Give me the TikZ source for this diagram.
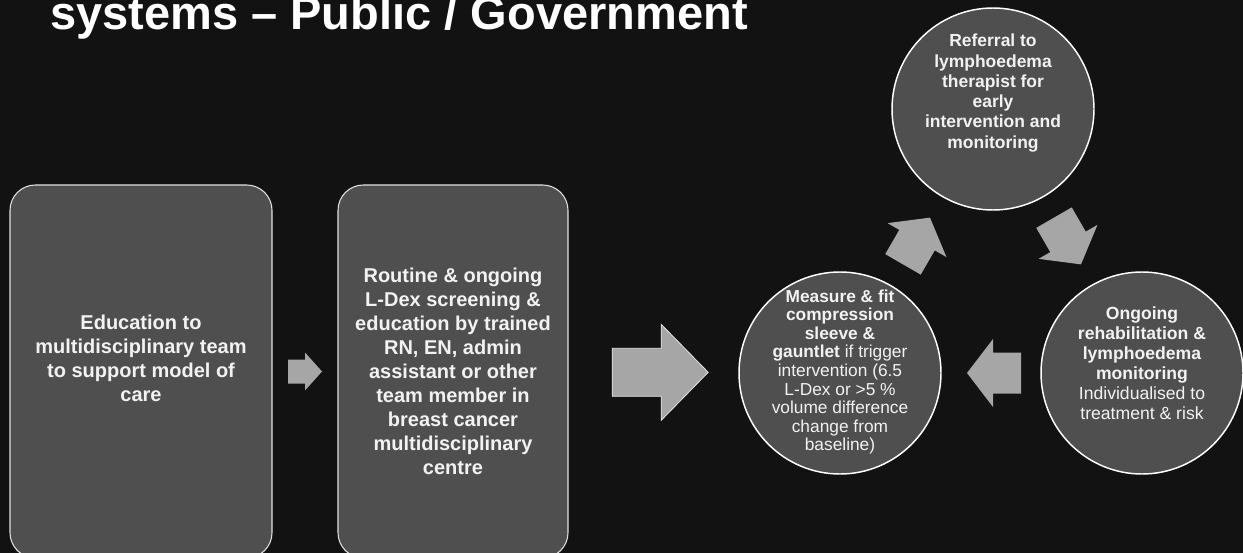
\documentclass[tikz,border=0pt]{standalone}
\usepackage{fontspec}
\setmainfont{Liberation Sans}
\usetikzlibrary{calc}
\definecolor{bg}{HTML}{121212}
\definecolor{panel}{HTML}{4F4F4F}
\definecolor{arrowgray}{HTML}{A6A6A6}
\definecolor{txt}{HTML}{F2F2F2}

\begin{document}
\begin{tikzpicture}[x=0.75pt,y=-0.75pt,
  stepbox/.style={draw=white!88!black, line width=0.8pt, fill=panel,
    rounded corners=19pt, inner sep=0pt, minimum height=279.75pt},
  disc/.style={circle, draw=white, line width=1.1pt, fill=panel,
    minimum size=151.5pt, inner sep=0pt},
  boxtext/.style={text=txt, align=center, inner sep=0pt,
    font=\bfseries\fontsize{15}{18}\selectfont},
  disctext/.style={text=txt, align=center, inner sep=0pt},
  pics/cyclearrow/.style={code={
    \fill[arrowgray] (-27,-20.5) -- (1,-20.5) -- (1,-34) -- (27,0)
      -- (1,34) -- (1,20.5) -- (-27,20.5) -- cycle;}},
  pics/smallarrow/.style={code={
    \fill[arrowgray] (-17,-12) -- (0,-12) -- (0,-19) -- (17,0)
      -- (0,19) -- (0,12) -- (-17,12) -- cycle;}},
  pics/bigarrow/.style={code={
    \filldraw[fill=arrowgray, draw=white!90!black, line width=0.6pt]
      (-48,-24) -- (1,-24) -- (1,-48) -- (48,0)
      -- (1,48) -- (1,24) -- (-48,24) -- cycle;}},
]
\useasboundingbox (0,0) rectangle (1243,553);
\clip (0,0) rectangle (1243,553);
\fill[bg] (0,0) rectangle (1243,553);

% heading (second line of the slide title)
\node[anchor=base west, inner sep=0pt, text=white,
  font=\bfseries\fontsize{35.25}{40}\selectfont] (title) at (50,30)
  {systems – Public / Government};

% two rounded panels
\node[stepbox, minimum width=196.5pt] (box1) at (141,371.5) {};
\node[stepbox, minimum width=172.5pt] (box2) at (453,371.5) {};

\node[boxtext] (t1) at ($(box1.center)+(0,-13.5)$)
  {Education to\\multidisciplinary team\\to support model of\\care};
\node[boxtext] (t2) at ($(box2.center)+(0,0)$)
  {Routine \& ongoing\\L-Dex screening \&\\education by trained\\RN, EN, admin\\assistant or other\\team member in\\breast cancer\\multidisciplinary\\centre};

% cycle of three discs
\node[disc] (meas) at (840,373) {};
\node[disc] (refr) at (993,109) {};
\node[disc] (ongo) at (1142,373) {};

\node[disctext, font=\fontsize{13}{13.9}\selectfont] (mtext)
  at ($(meas.center)+(0,-1)$)
  {\textbf{Measure \& fit}\\\textbf{compression}\\\textbf{sleeve \&}\\\textbf{gauntlet} if trigger\\intervention (6.5\\L-Dex or >5 \%\\volume difference\\change from\\baseline)};
\node[disctext, font=\bfseries\fontsize{13.1}{15.2}\selectfont] (rtext)
  at ($(refr.center)+(0,-16)$)
  {Referral to\\lymphoedema\\therapist for\\early\\intervention and\\monitoring};
\node[disctext, font=\fontsize{13.2}{15}\selectfont] (otext)
  at ($(ongo.center)+(0,-10)$)
  {\textbf{Ongoing}\\\textbf{rehabilitation \&}\\\textbf{lymphoedema}\\\textbf{monitoring}\\Individualised to\\treatment \& risk};

% block arrows between the steps
\pic at ($(box1.east)!0.5!(box2.west)$) {smallarrow};
\pic at ($(box2.east)!0.54!(meas.west)$) {bigarrow};
\pic[rotate=60] at ($(meas)!0.5!(refr)$) {cyclearrow};
\pic[rotate=-60] at ($(refr)!0.5!(ongo)$) {cyclearrow};
\pic[rotate=180] at ($(meas)!0.5!(ongo)+(3,0)$) {cyclearrow};
\end{tikzpicture}
\end{document}
